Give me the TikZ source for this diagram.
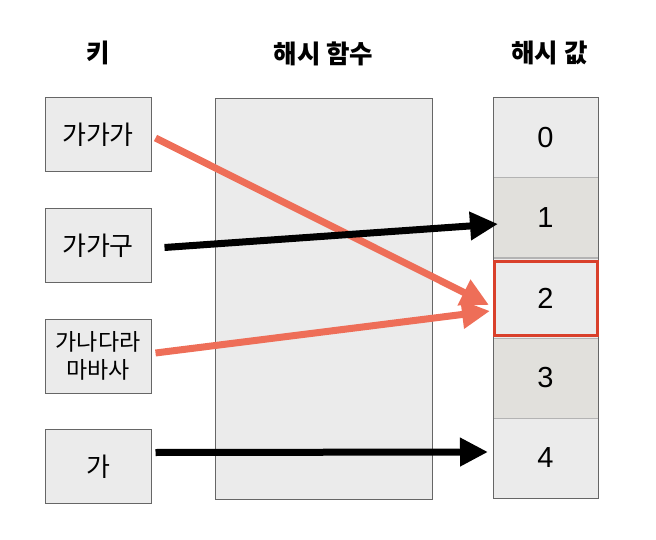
\documentclass[tikz,border=0pt]{standalone}
\usepackage{fontspec}
\setmainfont{Noto Sans CJK KR}
\newfontfamily\numfont{Liberation Sans}
\usetikzlibrary{arrows.meta, positioning, fit}
\definecolor{boxgray}{HTML}{EBEBEB}
\definecolor{altgray}{HTML}{E1E0DC}
\definecolor{edgegray}{HTML}{666666}
\definecolor{sepgray}{HTML}{B3B3B3}
\definecolor{salmon}{HTML}{EE6E58}
\definecolor{hotred}{HTML}{D9402B}

\begin{document}
\begin{tikzpicture}[x=1pt, y=-1pt,
    every node/.style={font=\fontsize{26}{30}\selectfont},
    head/.style={font=\fontsize{25.5}{28}\selectfont\bfseries},
    keybox/.style={rectangle, draw=edgegray, line width=1pt, fill=boxgray, minimum width=106pt, minimum height=74pt, inner sep=0pt, align=center},
    funcbox/.style={rectangle, draw=edgegray, line width=1pt, fill=boxgray, minimum width=217pt, minimum height=400pt},
    cell/.style={rectangle, draw=sepgray, line width=1pt, minimum width=105pt, minimum height=80pt, outer sep=0pt, inner sep=0pt, font=\fontsize{29}{32}\selectfont\numfont},
    redflow/.style={-{Triangle[length=28pt, width=27pt]}, line width=7pt, salmon},
    flow/.style={-{Triangle[length=28pt, width=27pt]}, line width=7pt, black}
]
\useasboundingbox (0,0) rectangle (656,540);

% 키
\node[keybox] (k1) at (98,135) {가가가};
\node[keybox, below=35.5pt of k1] (k2) {가가구};
\node[keybox, below=35.5pt of k2, font=\fontsize{23}{28.5}\selectfont] (k3) {가나다라\\마바사};
\node[keybox, below=35.5pt of k3] (k4) {가};

% 해시 함수
\node[funcbox] (hf) at (323.5,299) {};

% 해시 값
\node[cell, fill=boxgray] (c0) at (545.5,138) {0};
\node[cell, fill=altgray, below=0pt of c0] (c1) {1};
\node[cell, fill=boxgray, below=0pt of c1] (c2) {2};
\node[cell, fill=altgray, below=0pt of c2] (c3) {3};
\node[cell, fill=boxgray, below=0pt of c3] (c4) {4};
\draw[edgegray, line width=1pt] (c0.north west) rectangle (c4.south east);
\draw[hotred, line width=3pt] ([shift={(1.5,3.5)}]c2.north west) rectangle ([shift={(-0.5,-2.5)}]c2.south east);

% 제목
\node[head] (hk) at ([yshift=45pt]k1.north) {키};
\node[head] (hh) at ([yshift=45pt]hf.north) {해시 함수};
\node[head] (hv) at ([xshift=4pt, yshift=45pt]c0.north) {해시 값};

% 화살표
\draw[redflow] ([shift={(4,3)}]k1.east) -- ([shift={(-4,7)}]c2.west);
\draw[redflow] ([shift={(4,-3)}]k3.east) -- ([shift={(-3,13)}]c2.west);
\draw[flow] ([shift={(13,2)}]k2.east) -- ([shift={(5,6)}]c1.west);
\draw[flow] ([shift={(4,-14)}]k4.east) -- ([shift={(-5,-6)}]c4.west);

\end{tikzpicture}
\end{document}
